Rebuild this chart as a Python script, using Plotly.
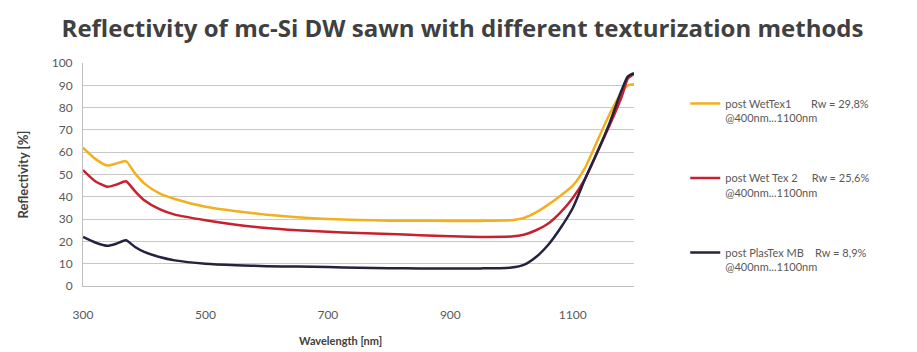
import plotly.graph_objects as go

wavelength = [300, 320, 340, 355, 370, 385, 400, 425, 450, 500, 550, 600, 650, 700, 750,
              800, 850, 900, 950, 1000, 1020, 1040, 1060, 1080, 1100, 1120, 1140, 1160,
              1180, 1190, 1200]
wettex1 = [62, 57, 54, 55, 56, 50.5, 46, 41.5, 39, 35.5, 33.5, 32, 30.8, 30, 29.6,
           29.3, 29.3, 29.2, 29.2, 29.5, 30.5, 33, 36.5, 40.5, 45, 53, 65, 77,
           87, 90, 90.5]
wettex2 = [52, 47, 44.5, 45.5, 47, 42.5, 38.5, 34.5, 32, 29.5, 27.5, 26, 25, 24.3, 23.8,
           23.3, 22.8, 22.3, 22, 22.2, 23, 25, 28, 33, 39.5, 48, 60, 72,
           85, 93, 95]
plastex = [22, 19.5, 18, 19, 20.5, 17.5, 15.3, 13, 11.5, 10, 9.3, 8.9, 8.7, 8.5, 8.2,
           8, 7.9, 7.9, 7.9, 8.3, 9.5, 13, 18.5, 26, 35, 48, 60, 73,
           88, 94, 95.5]

series_names = [
    "post WetTex1       Rw = 29,8%<br>@400nm...1100nm",
    "post Wet Tex 2     Rw = 25,6%<br>@400nm...1100nm",
    "post PlasTex MB    Rw = 8,9%<br>@400nm...1100nm",
]
x_ticks = [300, 500, 700, 900, 1100]
y_ticks = list(range(0, 101, 10))

colors = ["#f2b01e", "#c8202e", "#23223f"]
fig = go.Figure()
for i, (ys, name) in enumerate(zip([wettex1, wettex2, plastex], series_names)):
    fig.add_trace(go.Scatter(x=wavelength, y=ys, mode="lines", name=name,
                             line=dict(color=colors[i], width=2.5, shape="spline", smoothing=0.6),
                             legendgroup=str(i)))

fig.update_layout(
    width=909, height=344,
    margin=dict(l=75, r=283, t=55, b=66),
    paper_bgcolor="white", plot_bgcolor="white",
    font=dict(family="Lato, Open Sans, sans-serif", color="#595959", size=11),
    title=dict(text="<b>Reflectivity of mc-Si DW sawn with different texturization methods</b>",
               x=0.5, xanchor="center", y=0.94, yanchor="middle",
               font=dict(size=24, color="#404040", family="Open Sans, sans-serif")),
    showlegend=True,
    legend=dict(x=1.093, xanchor="left", y=0.88, yanchor="top", tracegroupgap=43,
                font=dict(size=11, color="#595959"), valign="top",
                bgcolor="rgba(0,0,0,0)"),
    xaxis=dict(range=[300, 1200], tickvals=x_ticks, showgrid=False, zeroline=False,
               showline=True, linecolor="#bfbfbf", linewidth=1, ticks="",
               ticklabelstandoff=18, tickfont=dict(size=12, color="#595959")),
    yaxis=dict(range=[0, 100], tickvals=y_ticks, showgrid=True, gridcolor="#c8c8c8",
               gridwidth=1, zeroline=False, showline=True, linecolor="#bfbfbf",
               ticks="", ticklabelstandoff=7, tickfont=dict(size=12, color="#595959"),
               title=dict(text="<b>Reflectivity [%]</b>", font=dict(size=13, color="#404040"),
                          standoff=20)),
    annotations=[dict(text="<b>Wavelength [nm]</b>", xref="paper", yref="paper",
                      x=0.468, y=-0.245, xanchor="center", yanchor="middle", showarrow=False,
                      font=dict(size=11, color="#404040"))],
)

fig.write_html("out.html")
